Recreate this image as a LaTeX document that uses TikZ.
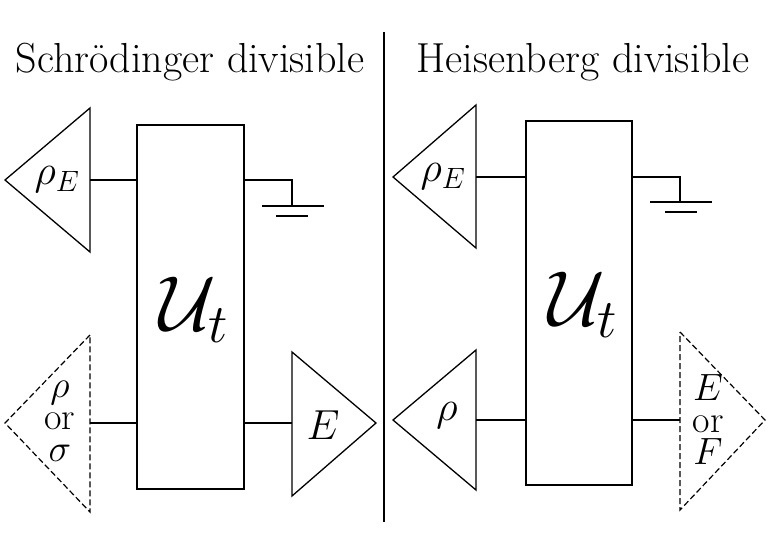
\RequirePackage{fix-cm}
\documentclass[tikz,border=0pt]{standalone}
\begin{document}
\begin{tikzpicture}[x=1pt,y=-1pt,line width=1.3pt,
  txt/.style={font=\fontsize{42}{40}\selectfont,inner sep=0pt},
  big/.style={font=\fontsize{78}{80}\selectfont,inner sep=0pt},
  dsh/.style={dash pattern=on 6pt off 3pt,line width=1.2pt}]
\useasboundingbox (0,0) rectangle (768,550);
% titles and divider
\node[txt] (t1) at (190,62) {Schr\"odinger divisible};
\node[txt] (t2) at (583,62) {Heisenberg divisible};
\draw (384,32) -- (384,522);
% left panel
\draw (137,125) rectangle (244,489);
\node[big] (u1) at (194,310) {$\mathcal{U}_t$};
\draw (90,108) -- (5,180) -- (90,252) -- cycle;
\node[txt] (re1) at (57,180) {$\rho_E$};
\coordinate (a1) at (90,180); \coordinate (b1) at (137,180);
\draw (a1) -- (b1);
\coordinate (g1) at (244,180); \coordinate (g1b) at (292,180); \coordinate (g1c) at (292,206);
\draw (g1) -- (g1b) -- (g1c);
\draw (262,206) -- (324,206); \draw (276,216) -- (308,216);
\draw[dsh] (90,335) -- (5,423) -- (90,512) -- cycle;
\node[txt,align=center,font=\fontsize{38}{32}\selectfont] (ros) at (60,421) {$\rho$\\or\\$\sigma$};
\coordinate (a2) at (90,423); \coordinate (b2) at (137,423);
\draw (a2) -- (b2);
\coordinate (c2) at (244,423); \coordinate (d2) at (292,423);
\draw (c2) -- (d2);
\draw (292,352) -- (376,423) -- (292,496) -- cycle;
\node[txt] (e1) at (323,425) {$E$};
% right panel
\draw (526,121) rectangle (632,485);
\node[big] (u2) at (583,305) {$\mathcal{U}_t$};
\draw (476,105) -- (393,177) -- (476,248) -- cycle;
\node[txt] (re2) at (443,177) {$\rho_E$};
\coordinate (a3) at (476,177); \coordinate (b3) at (526,177);
\draw (a3) -- (b3);
\coordinate (g2) at (632,177); \coordinate (g2b) at (680,177); \coordinate (g2c) at (680,202);
\draw (g2) -- (g2b) -- (g2c);
\draw (650,202) -- (712,202); \draw (665,212) -- (697,212);
\draw (476,350) -- (393,420) -- (476,490) -- cycle;
\node[txt] (r2) at (447,416) {$\rho$};
\coordinate (a4) at (476,420); \coordinate (b4) at (526,420);
\draw (a4) -- (b4);
\coordinate (c4) at (632,420); \coordinate (d4) at (680,420);
\draw (c4) -- (d4);
\draw[dsh] (680,332) -- (765,420) -- (680,510) -- cycle;
\node[txt,align=center,font=\fontsize{38}{32}\selectfont] (ef) at (708,420) {$E$\\or\\$F$};
\end{tikzpicture}
\end{document}
